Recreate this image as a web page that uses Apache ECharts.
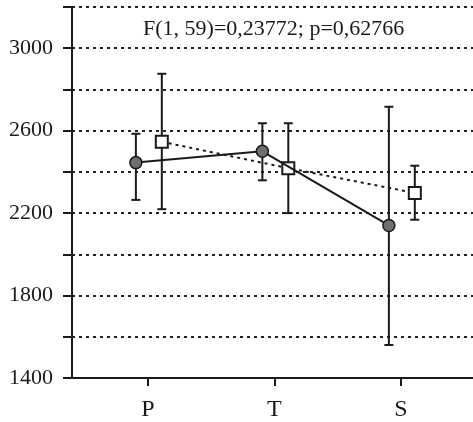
<!DOCTYPE html>
<html>
<head>
<meta charset="utf-8">
<script src="https://cdn.jsdelivr.net/npm/echarts@6/dist/echarts.min.js"></script>
<style>
  html, body { margin: 0; padding: 0; background: #fff; }
  #main { width: 473px; height: 422px; }
</style>
</head>
<body>
<div id="main"></div>
<script>
// categories and their x positions
const categories = ['P', 'T', 'S'];
const catPos = [1, 2, 3];

// circle group (solid line)
const circleMean = [2445, 2500, 2140];
const circleLow = [2264, 2359, 1560];
const circleHigh = [2585, 2636, 2716];

// square group (dotted line)
const squareMean = [2546, 2418, 2298];
const squareLow = [2219, 2200, 2168];
const squareHigh = [2876, 2636, 2430];

const statText = 'F(1, 59)=0,23772; p=0,62766';

const FONT = 'Liberation Serif';
const INK = '#1a1a1a';
const circleShift = -0.095;
const squareShift = 0.11;

const pts = (mean, shift) => mean.map((v, i) => [catPos[i] + shift, v]);
const bars = (low, high, shift) => low.map((v, i) => [catPos[i] + shift, v, high[i]]);

// vertical whisker with caps
function renderBar(params, api) {
  const x = api.value(0);
  const lo = api.coord([x, api.value(1)]);
  const hi = api.coord([x, api.value(2)]);
  const half = 4.5;
  const style = { stroke: INK, lineWidth: 2 };
  return {
    type: 'group',
    children: [
      { type: 'line', shape: { x1: lo[0], y1: lo[1], x2: hi[0], y2: hi[1] }, style },
      { type: 'line', shape: { x1: lo[0] - half, y1: lo[1], x2: lo[0] + half, y2: lo[1] }, style },
      { type: 'line', shape: { x1: hi[0] - half, y1: hi[1], x2: hi[0] + half, y2: hi[1] }, style }
    ]
  };
}

const chart = echarts.init(document.getElementById('main'));
chart.setOption({
  animation: false,
  backgroundColor: '#fff',
  title: {
    text: statText,
    left: 138,
    top: 13,
    textStyle: { fontFamily: FONT, fontSize: 22, fontWeight: 'normal', color: INK }
  },
  grid: { left: 72, right: 0, top: 7, bottom: 43 },
  xAxis: {
    type: 'value',
    min: 0.4,
    max: 3.57,
    splitLine: { show: false },
    axisLine: { lineStyle: { color: INK, width: 2 } },
    axisTick: { customValues: catPos, length: 8, lineStyle: { color: INK, width: 2 } },
    axisLabel: {
      customValues: catPos,
      margin: 20,
      fontFamily: FONT,
      fontSize: 24,
      color: INK,
      formatter: (v) => categories[catPos.indexOf(Math.round(v))] || ''
    }
  },
  yAxis: {
    type: 'value',
    min: 1400,
    max: 3200,
    interval: 200,
    axisLine: { show: true, lineStyle: { color: INK, width: 2 } },
    axisTick: { show: true, length: 9, lineStyle: { color: INK, width: 2 } },
    axisLabel: {
      interval: 1,
      margin: 19,
      fontFamily: FONT,
      fontSize: 22,
      color: INK,
      formatter: (v) => (v % 400 === 200 ? String(v) : '')
    },
    splitLine: { show: true, lineStyle: { type: [3, 4], width: 2, color: '#222' } }
  },
  series: [
    {
      type: 'custom',
      renderItem: renderBar,
      data: bars(circleLow, circleHigh, circleShift),
      z: 2
    },
    {
      type: 'custom',
      renderItem: renderBar,
      data: bars(squareLow, squareHigh, squareShift),
      z: 2
    },
    {
      type: 'line',
      data: pts(squareMean, squareShift),
      symbol: 'rect',
      symbolSize: 12,
      lineStyle: { color: INK, width: 2, type: [3, 4] },
      itemStyle: { color: '#fff', borderColor: INK, borderWidth: 2 },
      z: 3
    },
    {
      type: 'line',
      data: pts(circleMean, circleShift),
      symbol: 'circle',
      symbolSize: 12,
      lineStyle: { color: INK, width: 2 },
      itemStyle: { color: '#6e6e6e', borderColor: INK, borderWidth: 1.5 },
      z: 4
    }
  ]
});
</script>
</body>
</html>
